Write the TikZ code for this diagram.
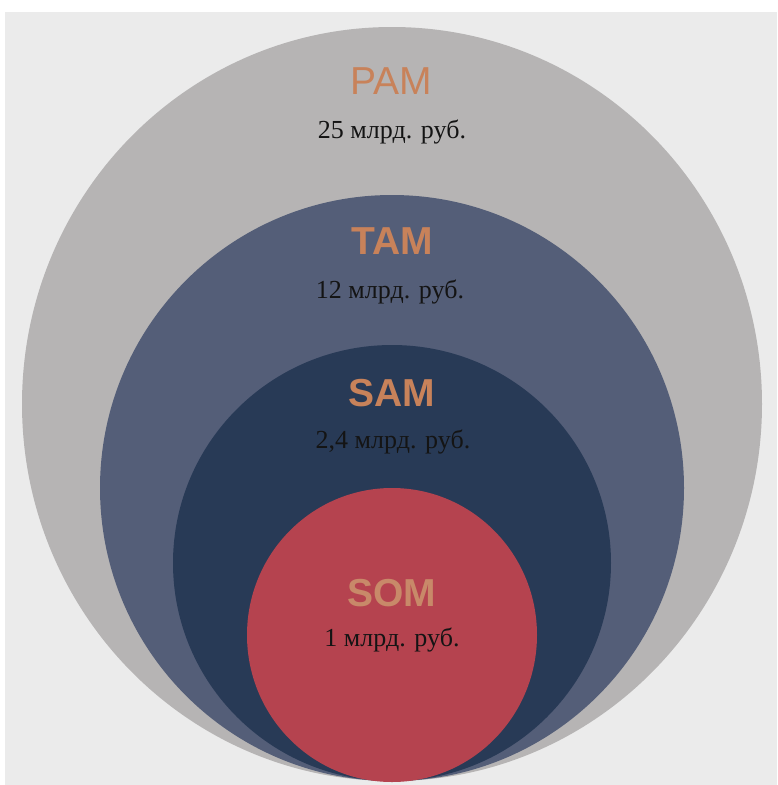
\documentclass[tikz,border=0pt]{standalone}
\usepackage{fontspec}
\setmainfont{Liberation Serif}
\newfontfamily\titlefont{Liberation Sans}
\definecolor{bgc}{RGB}{235,235,235}
\definecolor{pamc}{RGB}{182,180,180}
\definecolor{tamc}{RGB}{84,94,120}
\definecolor{samc}{RGB}{40,58,86}
\definecolor{somc}{RGB}{181,67,79}
\definecolor{ttlc}{RGB}{200,130,90}
\definecolor{somttl}{RGB}{200,137,105}
\tikzset{
  ttl/.style={text=ttlc,font=\titlefont\bfseries\fontsize{39}{39}\selectfont,inner sep=0pt,anchor=center},
  val/.style={text=black!92,font=\fontsize{26}{26}\selectfont,inner sep=0pt,anchor=center}
}
\begin{document}
\begin{tikzpicture}[x=1pt,y=-1pt]
\useasboundingbox (0,0) rectangle (777,785);
\fill[white] (0,0) rectangle (777,785);
\fill[bgc] (5,12) rectangle (777,785);
\fill[pamc] (392,404) ellipse [x radius=370,y radius=377];
\fill[tamc] (392,488) ellipse [x radius=292,y radius=293];
\fill[samc] (392,563) ellipse [x radius=219,y radius=218];
\fill[somc] (392,635) ellipse [x radius=145,y radius=147];
\node[ttl,font=\titlefont\fontsize{39}{39}\selectfont] (pam) at (391,81) {PAM};
\node[val] (pamv) at (392,132) {25 млрд. руб.};
\node[ttl] (tam) at (392,241) {TAM};
\node[val] (tamv) at (390,292) {12 млрд. руб.};
\node[ttl] (sam) at (392,393) {SAM};
\node[val] (samv) at (393,442) {2,4 млрд. руб.};
\node[ttl,text=somttl] (som) at (392,593) {SOM};
\node[val] (somv) at (392,640) {1 млрд. руб.};
\end{tikzpicture}
\end{document}
